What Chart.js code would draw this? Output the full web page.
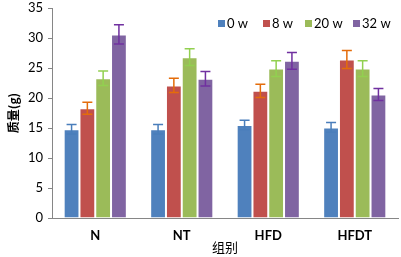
<!DOCTYPE html>
<html>
<head>
<meta charset="utf-8">
<script src="https://cdn.jsdelivr.net/npm/chart.js@4.4.1/dist/chart.umd.min.js"></script>
<style>
  html, body { margin: 0; padding: 0; background: #fff; }
  #wrap { width: 401px; height: 257px; }
</style>
</head>
<body>
<div id="wrap"><canvas id="massChart" width="401" height="257"></canvas></div>
<script>
const groups = ["N", "NT", "HFD", "HFDT"];
const seriesNames = ["0 w", "8 w", "20 w", "32 w"];
const yTicks = [0, 5, 10, 15, 20, 25, 30, 35];

const mass0w = [14.8, 14.8, 15.5, 15.1];
const mass8w = [18.3, 22.1, 21.2, 26.4];
const mass20w = [23.3, 26.8, 24.9, 24.9];
const mass32w = [30.6, 23.2, 26.2, 20.6];

const err0w = [0.8, 0.8, 0.8, 0.8];
const err8w = [1.0, 1.2, 1.1, 1.5];
const err20w = [1.2, 1.4, 1.3, 1.3];
const err32w = [1.6, 1.2, 1.4, 1.0];

const barColors = ["#4F81BD", "#C0504D", "#9BBB59", "#8064A2"];
const errColors = ["#4A7EBB", "#E46C0A", "#92D050", "#7030A0"];

const errorBars = {
    id: "errorBars",
    afterDatasetsDraw(chart) {
        const ctx = chart.ctx;
        const yScale = chart.scales.y;
        chart.data.datasets.forEach((ds, i) => {
            const meta = chart.getDatasetMeta(i);
            meta.data.forEach((bar, j) => {
                const v = ds.data[j];
                const e = ds.errors[j];
                const yTop = yScale.getPixelForValue(v + e);
                const yBot = yScale.getPixelForValue(v - e);
                ctx.save();
                ctx.strokeStyle = ds.errorColor;
                ctx.lineWidth = 1.5;
                ctx.beginPath();
                ctx.moveTo(bar.x, yTop);
                ctx.lineTo(bar.x, yBot);
                ctx.moveTo(bar.x - 5, yTop);
                ctx.lineTo(bar.x + 5, yTop);
                ctx.moveTo(bar.x - 5, yBot);
                ctx.lineTo(bar.x + 5, yBot);
                ctx.stroke();
                ctx.restore();
            });
        });
    }
};

// legend drawn inside the plot, top right, like the original
const insideLegend = {
    id: "insideLegend",
    afterDraw(chart) {
        const ctx = chart.ctx;
        const pos = [218, 263, 305, 353];
        ctx.save();
        ctx.font = "13px Lato, 'Open Sans', sans-serif";
        ctx.textBaseline = "middle";
        chart.data.datasets.forEach((ds, i) => {
            ctx.fillStyle = ds.backgroundColor;
            ctx.fillRect(pos[i], 20, 7, 7);
            ctx.fillStyle = "#000";
            ctx.fillText(ds.label, pos[i] + 9, 24);
        });
        ctx.restore();
    }
};

const massData = [mass0w, mass8w, mass20w, mass32w];
const errData = [err0w, err8w, err20w, err32w];

const chart = new Chart(document.getElementById("massChart").getContext("2d"), {
    type: "bar",
    data: {
        labels: groups,
        datasets: seriesNames.map((name, i) => ({
            label: name,
            data: massData[i],
            errors: errData[i],
            errorColor: errColors[i],
            backgroundColor: barColors[i],
            borderColor: "rgba(255,255,255,0.5)",
            borderWidth: 1,
            categoryPercentage: 0.73,
            barPercentage: 1.0
        }))
    },
    options: {
        responsive: false,
        animation: false,
        layout: { padding: { left: 0, right: 3, top: 8, bottom: 0 } },
        scales: {
            x: {
                grid: { display: false, drawTicks: false, tickLength: 0 },
                border: { display: true, color: "#868686", width: 1 },
                ticks: {
                    color: "#000",
                    padding: 10,
                    font: { family: "Lato, 'Open Sans', sans-serif", size: 13, weight: "bold" }
                },
                title: {
                    display: true,
                    text: "组别",
                    color: "#000",
                    padding: { top: 0, bottom: 2 },
                    font: { family: "'Noto Sans CJK SC'", size: 13 }
                },
                afterFit(scale) {
                    scale.height = 39;
                    scale.paddingLeft = 0;
                    scale.paddingRight = 0;
                }
            },
            y: {
                min: 0,
                max: 35,
                afterBuildTicks(scale) { scale.ticks = yTicks.map(v => ({ value: v })); },
                grid: { drawOnChartArea: false, drawTicks: true, tickLength: 4, color: "#868686" },
                border: { display: true, color: "#868686", width: 1 },
                ticks: {
                    color: "#000",
                    padding: 5,
                    font: { family: "Lato, 'Open Sans', sans-serif", size: 13 }
                },
                title: {
                    display: true,
                    text: "质量(g)",
                    color: "#000",
                    padding: { top: 6, bottom: 2 },
                    font: { family: "'Noto Sans CJK SC'", size: 12, weight: "bold" }
                },
                afterFit(scale) {
                    scale.width = 52;
                    scale.paddingTop = 0;
                    scale.paddingBottom = 0;
                }
            }
        },
        plugins: {
            legend: { display: false },
            tooltip: { enabled: false }
        }
    },
    plugins: [errorBars, insideLegend]
});
</script>
</body>
</html>
